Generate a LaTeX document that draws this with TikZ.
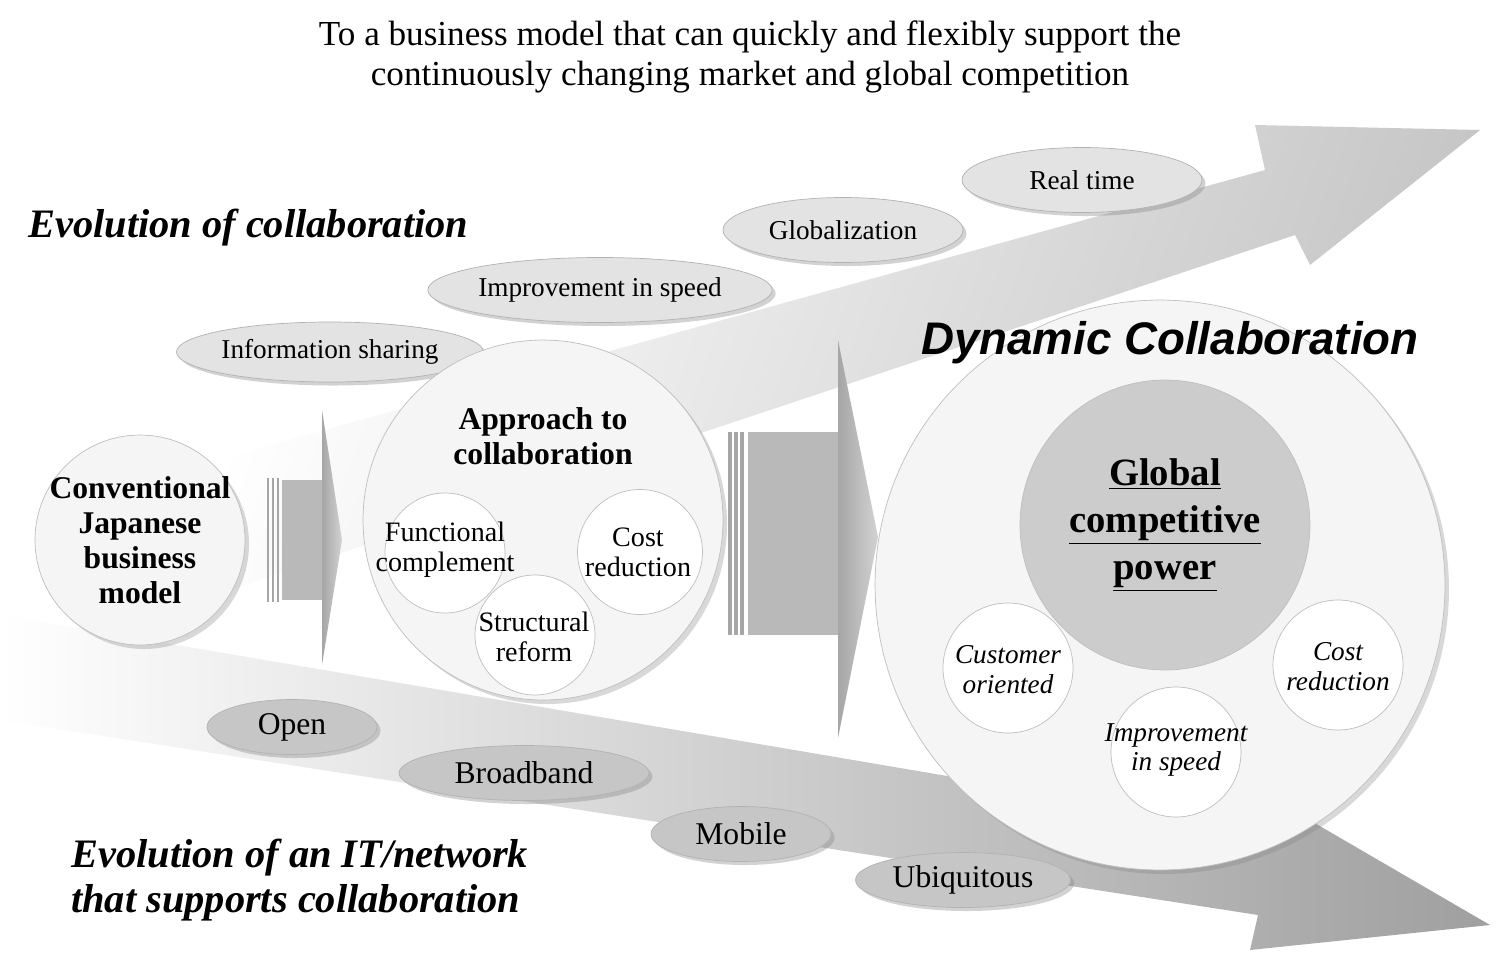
\documentclass[tikz,border=0pt]{standalone}
\usepackage{fontspec}
\setmainfont{Liberation Serif}
\newfontfamily\logofont{Liberation Sans}
\usetikzlibrary{shadows,shapes.geometric}
\begin{document}
\begin{tikzpicture}[x=0.02cm,y=-0.02cm,
 ell/.style={ellipse,draw=gray!60,fill=gray!22,drop shadow={opacity=0.35,shadow xshift=2pt,shadow yshift=-2pt},font=\fontsize{15.5}{17}\selectfont,inner sep=0},
 ell2/.style={ell,fill=gray!45,font=\fontsize{18}{20}\selectfont},
 circ/.style={circle,draw=gray!50,fill=gray!8,inner sep=0},
 lab/.style={align=center,font=\fontsize{18}{20}\selectfont\bfseries},
 slab/.style={align=center,font=\fontsize{16}{17}\selectfont},
 ilab/.style={align=center,font=\fontsize{15.5}{17}\selectfont\itshape}]
\useasboundingbox (0,0) rectangle (1497,957);
\fill[white] (0,0) rectangle (1497,957);
% title
\node[font=\fontsize{20}{23}\selectfont,align=center] (title) at (750,57) {To a business model that can quickly and flexibly support the\\continuously changing market and global competition};
% upper arrow
\shade[left color=white,right color=gray!45,shading angle=70]
 (180,470) -- (1265,170) -- (1255,125) -- (1480,130) -- (1310,265) -- (1295,235) -- (230,590) -- cycle;
% lower arrow
\shade[left color=white,right color=gray!75]
 (0,615) -- (1265,830) -- (1275,800) -- (1490,925) -- (1250,950) -- (1258,915) -- (0,720) -- cycle;
% labels
\node[anchor=west,font=\fontsize{23}{26}\selectfont\bfseries\itshape] (evc) at (22,228) {Evolution of collaboration};
\node[anchor=west,font=\fontsize{23}{26}\selectfont\bfseries\itshape,align=left] (evit) at (65,880) {Evolution of an IT/network\\that supports collaboration};
% upper ellipses
\node[ell,minimum width=4.8cm,minimum height=1.2cm] (e1) at (330,352) {Information sharing};
\node[ell,minimum width=5cm,minimum height=1.3cm] (e2) at (600,290) {Improvement in speed};
\node[ell,minimum width=4.8cm,minimum height=1.3cm] (e3) at (843,230) {Globalization};
\node[ell,minimum width=4.8cm,minimum height=1.3cm] (e4) at (1082,180) {Real time};
% lower ellipses
\node[ell2,minimum width=3.4cm,minimum height=1.1cm] (l1) at (292,727) {Open};
\node[ell2,minimum width=5cm,minimum height=1.1cm] (l2) at (524,773) {Broadband};
\node[ell2,minimum width=3.6cm,minimum height=1.1cm] (l3) at (741,834) {Mobile};
\node[ell2,minimum width=4.3cm,minimum height=1.1cm] (l4) at (963,880) {Ubiquitous};
% conventional
\node[circ,minimum size=4.2cm,drop shadow={opacity=0.3}] (conv) at (140,540) {};
\node[lab] at (conv) {Conventional\\Japanese\\business\\model};
% arrow block 1
\foreach \x in {268,273,278} \draw[gray!70,line width=1.5pt] (\x,478) -- (\x,602);
\fill[gray!55] (282,480) rectangle (322,600);
\shade[left color=gray!70,right color=gray!35] (322,410) -- (342,540) -- (322,665) -- cycle;
% approach circle
\node[circ,minimum size=7.2cm,drop shadow={opacity=0.3}] (appr) at (543,520) {};
\node[lab] at (543,436) {Approach to\\collaboration};
\node[circ,fill=white,minimum size=2.4cm] (fc) at (445,553) {};
\node[circ,fill=white,minimum size=2.5cm] (cr) at (640,552) {};
\node[circ,fill=white,minimum size=2.4cm] (sr) at (535,635) {};
\node[slab] at (445,550) {Functional\\complement};
\node[slab] at (638,552) {Cost\\reduction};
\node[slab] at (534,637) {Structural\\reform};
% arrow block 2
\foreach \x in {730,736,742} \draw[gray!70,line width=2pt] (\x,432) -- (\x,635);
\fill[gray!55] (748,432) rectangle (838,635);
\shade[left color=gray!70,right color=gray!35] (838,340) -- (878,537) -- (838,738) -- cycle;
% dynamic collaboration
\node[circ,minimum size=11.4cm,drop shadow={opacity=0.3}] (big) at (1160,585) {};
\node[font=\logofont\fontsize{26}{28}\selectfont\bfseries\itshape] (logo) at (1170,343) {Dynamic Collaboration};
\node[circle,draw=gray!50,fill=gray!40,minimum size=5.8cm] (gcp) at (1165,525) {};
\node[align=center,font=\fontsize{22}{27}\selectfont\bfseries] at (gcp) {\underline{Global}\\\underline{competitive}\\\underline{power}};
\node[circ,fill=white,minimum size=2.6cm] (co) at (1008,668) {};
\node[circ,fill=white,minimum size=2.6cm] (is) at (1176,752) {};
\node[circ,fill=white,minimum size=2.6cm] (cr2) at (1338,665) {};
\node[ilab] at (1008,670) {Customer\\oriented};
\node[ilab] at (1176,750) {Improvement\\in speed};
\node[ilab] at (1338,667) {Cost\\reduction};
\end{tikzpicture}
\end{document}
